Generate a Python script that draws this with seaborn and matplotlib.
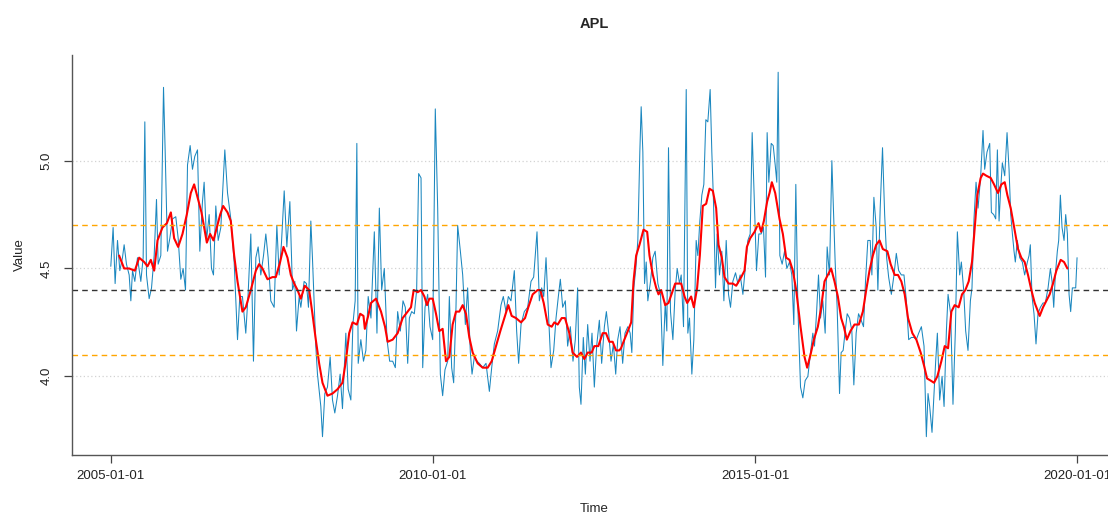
"""
APL weekly series with moving average and reference bands
"""

import matplotlib
matplotlib.use("Agg")
import matplotlib.pyplot as plt
import seaborn as sns
import pandas as pd

# --- data: (decimal year, value) ---
apl_raw = [
    (2005.000, 4.51), (2005.036, 4.69), (2005.067, 4.43), (2005.104, 4.63), (2005.140, 4.49),
    (2005.181, 4.55), (2005.207, 4.61), (2005.243, 4.52), (2005.285, 4.47), (2005.311, 4.35),
    (2005.337, 4.49), (2005.373, 4.44), (2005.414, 4.55), (2005.466, 4.44), (2005.502, 4.55),
    (2005.528, 5.18), (2005.554, 4.47), (2005.595, 4.36), (2005.632, 4.41), (2005.673, 4.56),
    (2005.709, 4.82), (2005.735, 4.52), (2005.776, 4.56), (2005.818, 5.34), (2005.844, 5.04),
    (2005.880, 4.58), (2005.916, 4.64), (2005.958, 4.73), (2006.009, 4.74), (2006.046, 4.64),
    (2006.087, 4.45), (2006.123, 4.50), (2006.160, 4.40), (2006.191, 4.98), (2006.232, 5.07),
    (2006.268, 4.96), (2006.304, 5.02), (2006.346, 5.05), (2006.382, 4.58), (2006.423, 4.81),
    (2006.449, 4.90), (2006.486, 4.63), (2006.527, 4.75), (2006.563, 4.50), (2006.594, 4.47),
    (2006.630, 4.79), (2006.667, 4.63), (2006.708, 4.69), (2006.770, 5.05), (2006.812, 4.85),
    (2006.863, 4.73), (2006.915, 4.53), (2006.967, 4.17), (2007.003, 4.37), (2007.044, 4.37),
    (2007.096, 4.20), (2007.132, 4.38), (2007.174, 4.66), (2007.215, 4.07), (2007.252, 4.55),
    (2007.288, 4.60), (2007.329, 4.47), (2007.371, 4.56), (2007.407, 4.66), (2007.443, 4.55),
    (2007.484, 4.35), (2007.536, 4.32), (2007.578, 4.70), (2007.614, 4.47), (2007.650, 4.62),
    (2007.692, 4.86), (2007.733, 4.60), (2007.780, 4.81), (2007.821, 4.40), (2007.857, 4.44),
    (2007.883, 4.21), (2007.924, 4.37), (2007.950, 4.32), (2008.002, 4.44), (2008.038, 4.43),
    (2008.069, 4.32), (2008.106, 4.72), (2008.131, 4.55), (2008.183, 4.14), (2008.209, 4.01),
    (2008.261, 3.86), (2008.287, 3.72), (2008.323, 3.92), (2008.364, 3.95), (2008.406, 4.09),
    (2008.442, 3.89), (2008.478, 3.83), (2008.520, 3.91), (2008.561, 4.01), (2008.597, 3.85),
    (2008.649, 4.20), (2008.685, 3.94), (2008.727, 3.89), (2008.758, 4.24), (2008.794, 4.35),
    (2008.820, 5.08), (2008.841, 4.06), (2008.882, 4.17), (2008.923, 4.07), (2008.960, 4.12),
    (2008.996, 4.37), (2009.037, 4.27), (2009.089, 4.67), (2009.130, 4.20), (2009.167, 4.78),
    (2009.203, 4.40), (2009.244, 4.50), (2009.286, 4.17), (2009.327, 4.07), (2009.374, 4.07),
    (2009.415, 4.04), (2009.451, 4.30), (2009.493, 4.21), (2009.534, 4.35), (2009.570, 4.32),
    (2009.607, 4.06), (2009.633, 4.27), (2009.669, 4.30), (2009.710, 4.29), (2009.746, 4.40),
    (2009.777, 4.94), (2009.814, 4.92), (2009.840, 4.04), (2009.876, 4.32), (2009.917, 4.38),
    (2009.953, 4.23), (2009.995, 4.17), (2010.036, 5.24), (2010.073, 4.78), (2010.114, 4.01),
    (2010.150, 3.91), (2010.186, 4.03), (2010.228, 4.07), (2010.254, 4.37), (2010.290, 4.04),
    (2010.321, 3.97), (2010.357, 4.32), (2010.383, 4.70), (2010.425, 4.58), (2010.461, 4.47),
    (2010.502, 4.24), (2010.538, 4.41), (2010.580, 4.11), (2010.606, 4.01), (2010.642, 4.09),
    (2010.683, 4.07), (2010.720, 4.06), (2010.771, 4.04), (2010.823, 4.06), (2010.875, 3.93),
    (2010.911, 4.04), (2010.952, 4.15), (2011.004, 4.21), (2011.056, 4.33), (2011.092, 4.37),
    (2011.134, 4.30), (2011.170, 4.37), (2011.211, 4.35), (2011.263, 4.49), (2011.299, 4.21),
    (2011.330, 4.06), (2011.367, 4.24), (2011.418, 4.30), (2011.470, 4.32), (2011.522, 4.44),
    (2011.563, 4.46), (2011.615, 4.67), (2011.651, 4.35), (2011.687, 4.41), (2011.719, 4.37),
    (2011.755, 4.55), (2011.796, 4.27), (2011.832, 4.04), (2011.874, 4.12), (2011.910, 4.27),
    (2011.946, 4.37), (2011.977, 4.45), (2012.014, 4.32), (2012.055, 4.35), (2012.091, 4.14),
    (2012.133, 4.23), (2012.174, 4.07), (2012.210, 4.17), (2012.246, 4.41), (2012.272, 3.95),
    (2012.298, 3.87), (2012.334, 4.18), (2012.366, 4.01), (2012.402, 4.24), (2012.438, 4.07),
    (2012.469, 4.20), (2012.505, 3.95), (2012.541, 4.14), (2012.583, 4.26), (2012.619, 4.06),
    (2012.661, 4.23), (2012.692, 4.30), (2012.728, 4.20), (2012.764, 4.07), (2012.801, 4.15),
    (2012.837, 4.01), (2012.868, 4.17), (2012.904, 4.23), (2012.945, 4.06), (2012.981, 4.20),
    (2013.023, 4.23), (2013.059, 4.20), (2013.085, 4.11), (2013.116, 4.41), (2013.147, 4.50),
    (2013.178, 4.63), (2013.209, 5.04), (2013.230, 5.25), (2013.256, 5.04), (2013.282, 4.43),
    (2013.308, 4.53), (2013.333, 4.35), (2013.375, 4.44), (2013.411, 4.55), (2013.447, 4.58),
    (2013.489, 4.43), (2013.530, 4.38), (2013.566, 4.05), (2013.603, 4.34), (2013.628, 4.21),
    (2013.654, 5.06), (2013.685, 4.30), (2013.722, 4.17), (2013.758, 4.40), (2013.789, 4.50),
    (2013.825, 4.43), (2013.851, 4.47), (2013.887, 4.23), (2013.929, 5.33), (2013.954, 4.20),
    (2013.980, 4.27), (2014.017, 4.01), (2014.048, 4.17), (2014.084, 4.63), (2014.110, 4.56),
    (2014.141, 4.72), (2014.172, 4.84), (2014.203, 4.89), (2014.234, 5.19), (2014.265, 5.18),
    (2014.301, 5.33), (2014.327, 5.04), (2014.353, 4.81), (2014.384, 4.41), (2014.410, 4.66),
    (2014.446, 4.47), (2014.482, 4.58), (2014.514, 4.35), (2014.550, 4.63), (2014.586, 4.38),
    (2014.617, 4.32), (2014.653, 4.44), (2014.695, 4.48), (2014.731, 4.43), (2014.767, 4.47),
    (2014.809, 4.38), (2014.845, 4.50), (2014.886, 4.63), (2014.922, 4.66), (2014.953, 5.13),
    (2014.990, 4.78), (2015.021, 4.49), (2015.057, 4.66), (2015.093, 4.66), (2015.129, 4.69),
    (2015.161, 4.46), (2015.186, 5.13), (2015.212, 4.90), (2015.249, 5.08), (2015.280, 5.07),
    (2015.311, 4.98), (2015.336, 4.90), (2015.357, 5.41), (2015.383, 4.56), (2015.419, 4.52),
    (2015.456, 4.58), (2015.492, 4.50), (2015.533, 4.53), (2015.569, 4.47), (2015.600, 4.24),
    (2015.631, 4.89), (2015.663, 4.32), (2015.704, 3.95), (2015.740, 3.90), (2015.776, 3.98),
    (2015.818, 4.00), (2015.859, 4.11), (2015.895, 4.20), (2015.921, 4.14), (2015.952, 4.29),
    (2015.983, 4.47), (2016.015, 4.27), (2016.051, 4.35), (2016.087, 4.20), (2016.118, 4.60),
    (2016.154, 4.47), (2016.191, 5.00), (2016.211, 4.81), (2016.242, 4.53), (2016.273, 4.32),
    (2016.310, 3.92), (2016.335, 4.11), (2016.366, 4.12), (2016.398, 4.21), (2016.429, 4.29),
    (2016.465, 4.27), (2016.501, 4.21), (2016.532, 3.96), (2016.568, 4.20), (2016.605, 4.29),
    (2016.646, 4.26), (2016.682, 4.23), (2016.713, 4.44), (2016.749, 4.63), (2016.786, 4.63),
    (2016.812, 4.47), (2016.843, 4.83), (2016.879, 4.69), (2016.905, 4.40), (2016.941, 4.78),
    (2016.977, 5.06), (2017.008, 4.75), (2017.039, 4.55), (2017.070, 4.46), (2017.112, 4.38),
    (2017.153, 4.47), (2017.189, 4.57), (2017.226, 4.49), (2017.267, 4.47), (2017.308, 4.47),
    (2017.345, 4.35), (2017.381, 4.17), (2017.422, 4.18), (2017.464, 4.18), (2017.500, 4.17),
    (2017.536, 4.20), (2017.578, 4.23), (2017.619, 4.14), (2017.655, 3.72), (2017.681, 3.92),
    (2017.707, 3.86), (2017.743, 3.74), (2017.774, 3.92), (2017.800, 4.07), (2017.826, 4.20),
    (2017.862, 3.89), (2017.899, 4.00), (2017.930, 3.86), (2017.966, 4.21), (2017.992, 4.38),
    (2018.033, 4.29), (2018.069, 3.87), (2018.106, 4.21), (2018.137, 4.67), (2018.173, 4.47),
    (2018.199, 4.53), (2018.235, 4.40), (2018.266, 4.21), (2018.302, 4.12), (2018.339, 4.35),
    (2018.364, 4.41), (2018.395, 4.73), (2018.427, 4.90), (2018.458, 4.78), (2018.499, 4.93),
    (2018.535, 5.14), (2018.561, 4.96), (2018.597, 5.04), (2018.639, 5.08), (2018.665, 4.76),
    (2018.701, 4.75), (2018.732, 4.73), (2018.758, 5.05), (2018.784, 4.72), (2018.809, 4.87),
    (2018.835, 4.99), (2018.872, 4.93), (2018.908, 5.13), (2018.939, 4.96), (2018.965, 4.75),
    (2018.991, 4.66), (2019.017, 4.58), (2019.037, 4.53), (2019.068, 4.63), (2019.105, 4.55),
    (2019.146, 4.53), (2019.182, 4.47), (2019.224, 4.53), (2019.250, 4.56), (2019.270, 4.61),
    (2019.296, 4.37), (2019.327, 4.29), (2019.358, 4.15), (2019.389, 4.29), (2019.426, 4.32),
    (2019.467, 4.34), (2019.503, 4.34), (2019.545, 4.41), (2019.581, 4.50), (2019.607, 4.44),
    (2019.633, 4.32), (2019.658, 4.47), (2019.689, 4.58), (2019.710, 4.63), (2019.736, 4.84),
    (2019.762, 4.69), (2019.793, 4.63), (2019.819, 4.75), (2019.845, 4.66), (2019.871, 4.38),
    (2019.896, 4.30), (2019.922, 4.41), (2019.948, 4.41), (2019.974, 4.41), (2019.995, 4.55),
]

apl_smooth = [
    (2005.129, 4.56), (2005.207, 4.50), (2005.285, 4.50), (2005.373, 4.49), (2005.440, 4.55),
    (2005.518, 4.53), (2005.569, 4.51), (2005.621, 4.54), (2005.673, 4.49), (2005.725, 4.63),
    (2005.802, 4.69), (2005.870, 4.71), (2005.932, 4.76), (2005.983, 4.64), (2006.046, 4.60),
    (2006.113, 4.66), (2006.180, 4.75), (2006.242, 4.85), (2006.294, 4.89), (2006.346, 4.83),
    (2006.408, 4.76), (2006.449, 4.69), (2006.491, 4.62), (2006.542, 4.66), (2006.594, 4.63),
    (2006.646, 4.69), (2006.698, 4.75), (2006.744, 4.79), (2006.812, 4.76), (2006.863, 4.72),
    (2006.915, 4.56), (2006.967, 4.44), (2007.044, 4.30), (2007.096, 4.32), (2007.174, 4.40),
    (2007.252, 4.49), (2007.303, 4.52), (2007.355, 4.50), (2007.433, 4.45), (2007.510, 4.46),
    (2007.562, 4.46), (2007.629, 4.53), (2007.681, 4.60), (2007.743, 4.55), (2007.795, 4.47),
    (2007.847, 4.43), (2007.899, 4.40), (2007.950, 4.36), (2008.012, 4.42), (2008.080, 4.40),
    (2008.131, 4.29), (2008.183, 4.17), (2008.235, 4.06), (2008.287, 3.97), (2008.364, 3.91),
    (2008.442, 3.92), (2008.520, 3.94), (2008.597, 3.97), (2008.649, 4.07), (2008.701, 4.20),
    (2008.753, 4.25), (2008.820, 4.24), (2008.872, 4.29), (2008.923, 4.28), (2008.944, 4.22),
    (2008.996, 4.28), (2009.037, 4.34), (2009.115, 4.36), (2009.193, 4.30), (2009.255, 4.23),
    (2009.296, 4.16), (2009.374, 4.17), (2009.451, 4.20), (2009.529, 4.27), (2009.607, 4.30),
    (2009.658, 4.32), (2009.700, 4.40), (2009.762, 4.39), (2009.814, 4.40), (2009.866, 4.37),
    (2009.907, 4.33), (2009.943, 4.36), (2009.995, 4.36), (2010.047, 4.29), (2010.098, 4.21),
    (2010.150, 4.22), (2010.202, 4.07), (2010.254, 4.09), (2010.305, 4.24), (2010.357, 4.30),
    (2010.409, 4.30), (2010.461, 4.33), (2010.512, 4.29), (2010.564, 4.18), (2010.616, 4.11),
    (2010.694, 4.06), (2010.771, 4.04), (2010.849, 4.04), (2010.911, 4.07), (2010.978, 4.14),
    (2011.046, 4.21), (2011.108, 4.27), (2011.170, 4.33), (2011.222, 4.28), (2011.289, 4.27),
    (2011.367, 4.25), (2011.429, 4.27), (2011.480, 4.32), (2011.548, 4.38), (2011.625, 4.40),
    (2011.667, 4.40), (2011.719, 4.34), (2011.781, 4.24), (2011.843, 4.23), (2011.884, 4.25),
    (2011.936, 4.24), (2011.998, 4.27), (2012.050, 4.27), (2012.117, 4.20), (2012.169, 4.11),
    (2012.236, 4.09), (2012.298, 4.11), (2012.350, 4.08), (2012.402, 4.11), (2012.464, 4.11),
    (2012.505, 4.14), (2012.567, 4.14), (2012.635, 4.20), (2012.686, 4.20), (2012.738, 4.16),
    (2012.790, 4.16), (2012.842, 4.12), (2012.893, 4.12), (2012.919, 4.13), (2012.971, 4.17),
    (2013.023, 4.21), (2013.075, 4.25), (2013.111, 4.44), (2013.152, 4.56), (2013.204, 4.61),
    (2013.266, 4.68), (2013.323, 4.67), (2013.359, 4.56), (2013.411, 4.47), (2013.463, 4.41),
    (2013.499, 4.38), (2013.540, 4.40), (2013.603, 4.33), (2013.654, 4.34), (2013.711, 4.39),
    (2013.758, 4.43), (2013.799, 4.43), (2013.851, 4.43), (2013.903, 4.37), (2013.944, 4.34),
    (2014.006, 4.37), (2014.048, 4.32), (2014.099, 4.41), (2014.141, 4.56), (2014.187, 4.79),
    (2014.239, 4.80), (2014.291, 4.87), (2014.343, 4.86), (2014.394, 4.78), (2014.431, 4.61),
    (2014.482, 4.55), (2014.524, 4.46), (2014.586, 4.43), (2014.653, 4.43), (2014.705, 4.42),
    (2014.783, 4.46), (2014.834, 4.49), (2014.871, 4.60), (2014.922, 4.64), (2014.990, 4.67),
    (2015.052, 4.71), (2015.093, 4.67), (2015.135, 4.72), (2015.186, 4.81), (2015.223, 4.85),
    (2015.259, 4.90), (2015.311, 4.85), (2015.378, 4.73), (2015.430, 4.66), (2015.481, 4.55),
    (2015.533, 4.54), (2015.585, 4.49), (2015.637, 4.40), (2015.704, 4.23), (2015.766, 4.09),
    (2015.807, 4.04), (2015.859, 4.10), (2015.911, 4.17), (2015.973, 4.23), (2016.025, 4.32),
    (2016.077, 4.44), (2016.128, 4.47), (2016.180, 4.50), (2016.232, 4.44), (2016.284, 4.37),
    (2016.335, 4.27), (2016.377, 4.23), (2016.423, 4.17), (2016.480, 4.21), (2016.542, 4.24),
    (2016.610, 4.24), (2016.672, 4.30), (2016.724, 4.40), (2016.775, 4.49), (2016.827, 4.56),
    (2016.879, 4.61), (2016.931, 4.63), (2016.982, 4.59), (2017.050, 4.58), (2017.101, 4.52),
    (2017.164, 4.47), (2017.215, 4.47), (2017.267, 4.44), (2017.319, 4.38), (2017.371, 4.27),
    (2017.438, 4.20), (2017.500, 4.17), (2017.567, 4.11), (2017.619, 4.05), (2017.666, 3.99),
    (2017.722, 3.98), (2017.774, 3.97), (2017.826, 4.00), (2017.888, 4.07), (2017.940, 4.14),
    (2017.992, 4.13), (2018.044, 4.30), (2018.095, 4.33), (2018.157, 4.32), (2018.209, 4.38),
    (2018.261, 4.40), (2018.313, 4.44), (2018.364, 4.53), (2018.406, 4.69), (2018.447, 4.84),
    (2018.499, 4.92), (2018.535, 4.94), (2018.587, 4.93), (2018.654, 4.92), (2018.706, 4.89),
    (2018.768, 4.85), (2018.820, 4.89), (2018.872, 4.90), (2018.913, 4.84), (2018.965, 4.78),
    (2019.001, 4.72), (2019.037, 4.66), (2019.079, 4.59), (2019.130, 4.55), (2019.182, 4.53),
    (2019.234, 4.47), (2019.286, 4.40), (2019.338, 4.34), (2019.415, 4.28), (2019.467, 4.32),
    (2019.519, 4.35), (2019.570, 4.38), (2019.622, 4.43), (2019.674, 4.49), (2019.741, 4.54),
    (2019.793, 4.53), (2019.845, 4.50),
]

mean_level = 4.4
band_levels = [4.7, 4.1]
grid_levels = [4.0, 4.5, 5.0]
year_ticks = ["2005-01-01", "2010-01-01", "2015-01-01", "2020-01-01"]


def to_date(y):
    yr = int(y)
    return pd.Timestamp(yr, 1, 1) + pd.Timedelta(days=(y - yr) * 365.25)


def to_frame(pairs):
    df = pd.DataFrame(pairs, columns=["year", "value"])
    df["Time"] = df["year"].apply(to_date)
    return df


raw_df = to_frame(apl_raw)
ma_df = to_frame(apl_smooth)

sns.set_style("white")
plt.rcParams["font.family"] = ["Liberation Sans", "DejaVu Sans"]

fig = plt.figure(figsize=(11.08, 5.15), dpi=100)
ax = fig.add_axes([72 / 1108, 60 / 515, 1044 / 1108, 400 / 515])

for g in grid_levels:
    ax.axhline(g, color="#d3d3d3", linestyle=(0, (1, 2)), linewidth=0.9, zorder=0)

sns.lineplot(data=raw_df, x="Time", y="value", ax=ax, color="#1b87bf",
             linewidth=0.75, estimator=None, sort=False)
sns.lineplot(data=ma_df, x="Time", y="value", ax=ax, color="red",
             linewidth=1.5, estimator=None, sort=False)

ax.axhline(mean_level, color="#333333", linestyle=(0, (4, 3)), linewidth=1.0)
for b in band_levels:
    ax.axhline(b, color="orange", linestyle=(0, (4, 3)), linewidth=1.0)

ax.set_xlim(to_date(2004.4), to_date(2020.6))
ax.set_ylim(3.635, 5.49)

ticks = pd.to_datetime(year_ticks)
ax.set_xticks(ticks)
ax.set_xticklabels(year_ticks)
ax.set_yticks([4.0, 4.5, 5.0])
ax.set_yticklabels(["4.0", "4.5", "5.0"], rotation=90, va="center")

ax.tick_params(axis="both", bottom=True, left=True, direction="out", length=6,
               width=0.9, color="#444444", labelsize=9.5, labelcolor="#222222")
ax.tick_params(axis="x", pad=5)
ax.tick_params(axis="y", pad=8)

for side in ["top", "right"]:
    ax.spines[side].set_visible(False)
for side in ["left", "bottom"]:
    ax.spines[side].set_color("#555555")
    ax.spines[side].set_linewidth(1.0)

ax.set_title("APL", fontsize=10.5, fontweight="bold", pad=19.5, x=(594 - 72) / 1044)
ax.set_xlabel("Time", fontsize=9.5)
ax.set_ylabel("Value", fontsize=9.5)
ax.xaxis.set_label_coords((594 - 72) / 1044, -0.12)
ax.yaxis.set_label_coords(-0.044, 0.5)

fig.savefig("out.png", dpi=100)
